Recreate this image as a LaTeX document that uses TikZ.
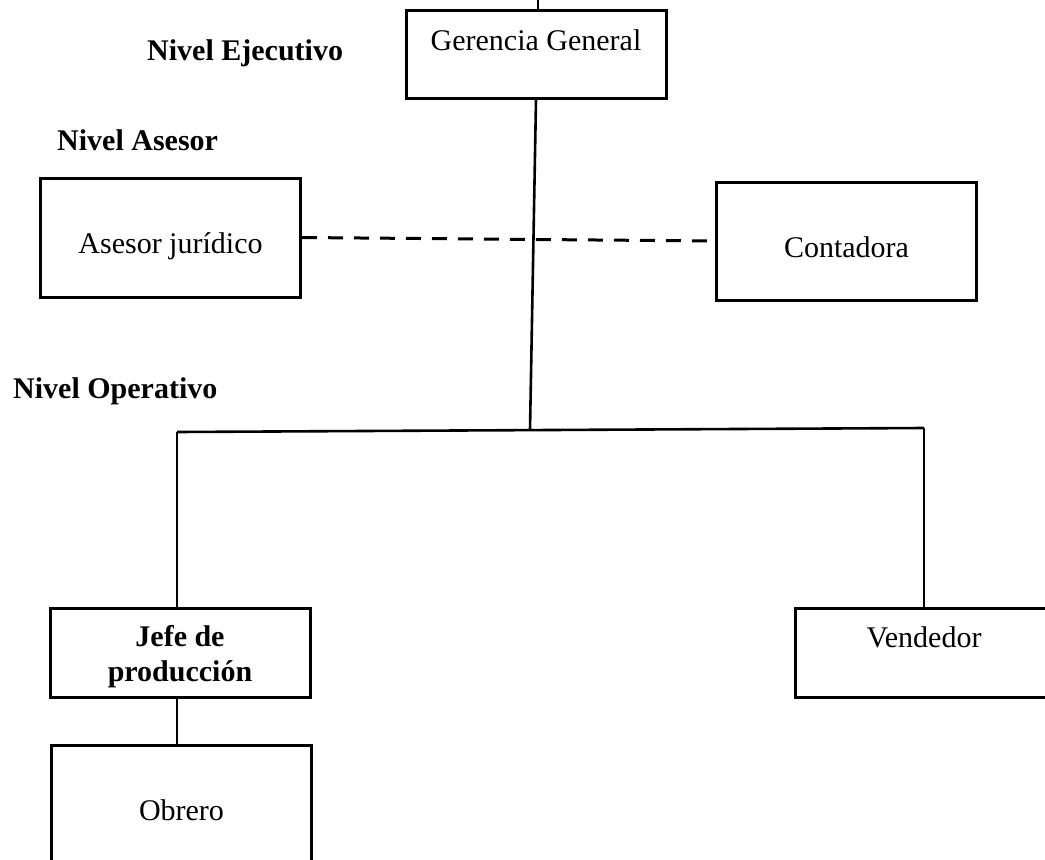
\documentclass[tikz,border=0pt]{standalone}
\usepackage{fontspec}
\setmainfont{Liberation Serif}
\usepackage{tikz}
\usetikzlibrary{positioning}
\tikzstyle{box} = [draw, line width=3pt, rectangle, minimum width=260pt, inner sep=3pt, font=\fontsize{30}{35}\selectfont]
\tikzstyle{level} = [anchor=base west, inner sep=0pt, font=\fontsize{30}{35}\selectfont\bfseries]
\tikzstyle{line} = [line width=2.6pt]
\tikzstyle{dashline} = [line width=3pt, dash pattern=on 15pt off 11pt]

\begin{document}
\begin{tikzpicture}[x=1pt, y=-1pt]
        \useasboundingbox (0,0) rectangle (1045,860);
        \clip (0,0) rectangle (1045,860);

        % Levels
        \node[level] (ejec) at (147,60) {Nivel Ejecutivo};
        \node[level] (ases) at (57,150) {Nivel Asesor};
        \node[level] (oper) at (13,398) {Nivel Operativo};

        % Boxes
        \node[box, minimum height=88pt, text height=22pt, text depth=30pt] (gg) at (536,54) {Gerencia General};
        \node[box, minimum height=119pt, text height=36pt, text depth=5pt] (asesor) at (170.5,237.5) {Asesor jurídico};
        \node[box, minimum height=118pt, text height=37pt, text depth=5pt] (conta) at (846.5,241) {Contadora};
        \node[box, minimum height=89pt, align=center, font=\fontsize{30}{35}\selectfont\bfseries] (jefe) at (180,652.5) {\rule{0pt}{30pt}Jefe de\\producción};
        \node[box, minimum width=258pt, minimum height=89pt, text height=22pt, text depth=33pt] (vend) at (924,652.5) {Vendedor};
        \node[box, minimum height=130pt] (obrero) at (181.5,810) {Obrero};

        % Points of the lines
        \coordinate (top) at (538,0);
        \coordinate (mid) at (530,430);
        \coordinate (left) at (177,432);
        \coordinate (right) at (924,428);

        % Edges - black
        \draw[line] (top) -- (gg.north -| top);
        \draw[line] (gg.south) -- (mid);
        \draw[line] (left) -- (right);
        \draw[line] (left) -- (left |- jefe.north);
        \draw[line] (right) -- (vend.north);
        \draw[line] (jefe.south -| left) -- (obrero.north -| left);
        \draw[dashline] (asesor.east) -- (conta.west);
      \end{tikzpicture}
\end{document}
